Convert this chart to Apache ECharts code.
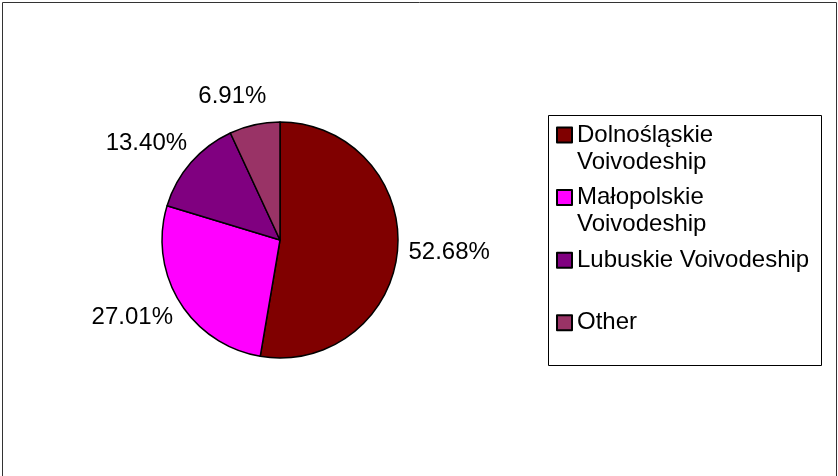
<!DOCTYPE html>
<html>
<head>
<meta charset="utf-8">
<style>
  html, body { margin: 0; padding: 0; background: #fff; }
  #chart { width: 838px; height: 476px; }
</style>
<script src="https://cdn.jsdelivr.net/npm/echarts@6/dist/echarts.min.js"></script>
</head>
<body>
<div id="chart"></div>
<script>
// ---- data ----
const categories = ['Dolnośląskie Voivodeship', 'Małopolskie Voivodeship', 'Lubuskie Voivodeship', 'Other'];
const shares = [52.68, 27.01, 13.40, 6.91];
const sliceColors = ['#800000', '#FF00FF', '#800080', '#993366'];

// ---- layout constants ----
const FONT = '"Liberation Sans", Arial, sans-serif';
const FONT_SIZE = 24;
const LINE_H = 27;
const WRAP_W = 240;
const LEGEND_LEFT = 556;
const LEGEND_TOP0 = 121.5;
const LEGEND_STEP = 62.6;

const measureCtx = document.createElement('canvas').getContext('2d');
measureCtx.font = FONT_SIZE + 'px "Liberation Sans"';
function needsWrap(t) { return measureCtx.measureText(t).width > WRAP_W; }
// wrap a legend label; a leading blank line keeps the icon level with the first line
function wrapLabel(t) {
  if (!needsWrap(t)) return t;
  const k = t.lastIndexOf(' ');
  return '\n' + t.slice(0, k) + '\n' + t.slice(k + 1);
}

const chart = echarts.init(document.getElementById('chart'), null, { renderer: 'canvas' });

const legends = categories.map((name, i) => ({
  orient: 'vertical',
  left: LEGEND_LEFT,
  top: LEGEND_TOP0 + LEGEND_STEP * i - (needsWrap(name) ? LINE_H : 0),
  padding: 0,
  itemWidth: 15,
  itemHeight: 15,
  itemGap: 0,
  icon: 'rect',
  data: [name],
  formatter: wrapLabel,
  textStyle: {
    fontFamily: FONT,
    fontSize: FONT_SIZE,
    lineHeight: LINE_H,
    color: '#000'
  }
}));

const option = {
  backgroundColor: '#fff',
  animation: false,
  legend: legends,
  graphic: [
    { type: 'rect', silent: true, z: -1,
      shape: { x: 2.5, y: 2.5, width: 834, height: 520 },
      style: { fill: 'none', stroke: '#333', lineWidth: 1 } },
    { type: 'rect', silent: true, z: -1,
      shape: { x: 548.5, y: 115.5, width: 273, height: 250 },
      style: { fill: '#fff', stroke: '#000', lineWidth: 1 } }
  ],
  series: [{
    type: 'pie',
    center: [280, 240],
    radius: 118,
    startAngle: 90,
    clockwise: true,
    avoidLabelOverlap: false,
    silent: true,
    itemStyle: { borderColor: '#000', borderWidth: 1.5 },
    label: {
      show: true,
      position: 'outside',
      alignTo: 'none',
      distanceToLabelLine: -18,
      fontFamily: FONT,
      fontSize: FONT_SIZE,
      color: '#000',
      formatter: p => p.value.toFixed(2) + '%'
    },
    labelLine: { show: false, length: 29, length2: 0 },
    emphasis: { disabled: true },
    data: categories.map((name, i) => ({
      name: name,
      value: shares[i],
      itemStyle: { color: sliceColors[i] }
    }))
  }]
};

chart.setOption(option);
</script>
</body>
</html>
